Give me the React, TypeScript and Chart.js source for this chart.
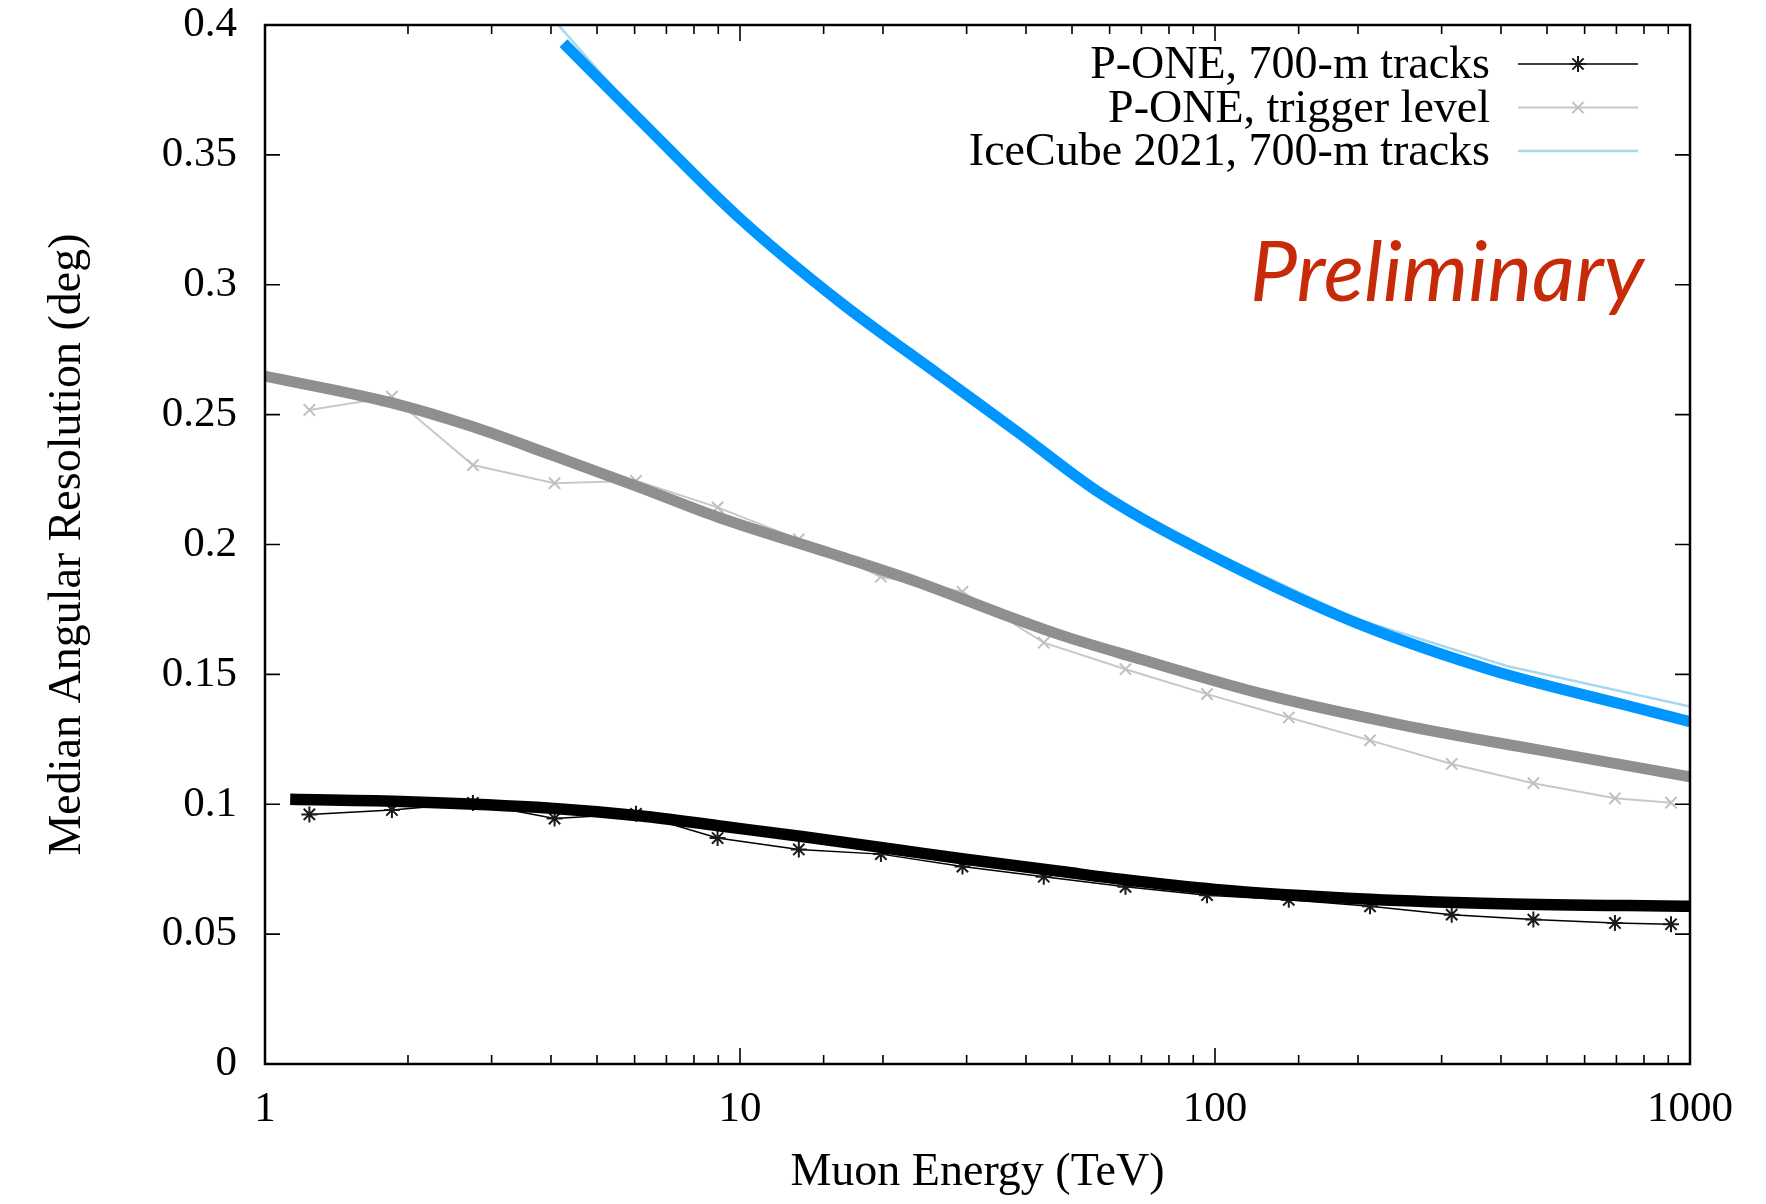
import React, { useEffect, useRef } from 'react';
import { Chart, registerables } from 'chart.js';

Chart.register(...registerables);

const SERIF = '"Liberation Serif", "Times New Roman", serif';

// Muon energy bins (TeV) of the P-ONE points
const energies = [1.24, 1.85, 2.74, 4.07, 6.04, 8.97, 13.3, 19.8, 29.4, 43.6, 64.8, 96.2, 143, 212, 315, 468, 695, 912];
// P-ONE, 700-m tracks (deg)
const poneTracks = [0.0961, 0.0978, 0.1005, 0.0945, 0.0963, 0.087, 0.0826, 0.0808, 0.076, 0.0721, 0.0682, 0.065, 0.0632, 0.0607, 0.0575, 0.0556, 0.0543, 0.0538];
// P-ONE, trigger level (deg)
const poneTrigger = [0.2518, 0.2569, 0.2306, 0.2236, 0.2245, 0.2143, 0.202, 0.1876, 0.1818, 0.1622, 0.152, 0.1424, 0.1334, 0.1246, 0.1155, 0.1081, 0.1023, 0.1006];

// IceCube 2021, 700-m tracks (thin line)
const icecubeE = [4.1, 6.2, 10, 16.2, 26.4, 38.8, 57, 104, 199, 416, 1000];
const icecubeRes = [0.401, 0.3635, 0.3258, 0.2938, 0.2652, 0.2432, 0.2205, 0.1952, 0.1712, 0.153, 0.1376];

// Smooth fit curves (thick lines)
const fitIceE = [4.25, 6.16, 10, 16.2, 26.4, 38.8, 57.4, 104, 199, 381, 730, 1000];
const fitIceRes = [0.393, 0.3634, 0.3255, 0.2935, 0.265, 0.2427, 0.2197, 0.1935, 0.1697, 0.1517, 0.1382, 0.1318];
const fitTrigE = [1, 1.84, 2.73, 4.06, 6.05, 9, 16.2, 23.5, 35.3, 47.2, 67.5, 129, 248, 473, 1000];
const fitTrigRes = [0.2648, 0.2546, 0.2454, 0.2341, 0.2225, 0.2105, 0.1955, 0.1857, 0.1735, 0.1652, 0.1566, 0.142, 0.1305, 0.1211, 0.1106];
const fitTrackE = [1.13, 2, 4, 6.2, 9, 13.5, 21.6, 29.6, 47, 64, 100, 212, 400, 1000];
const fitTrackRes = [0.1019, 0.101, 0.0985, 0.0955, 0.0917, 0.0876, 0.0824, 0.0789, 0.0742, 0.071, 0.0672, 0.0634, 0.0617, 0.0607];

const yTicks = [0, 0.05, 0.1, 0.15, 0.2, 0.25, 0.3, 0.35, 0.4];
const xLabels = [1, 10, 100, 1000];

const zip = (xs: number[], ys: number[]) => xs.map((x, i) => ({ x, y: ys[i] }));
const isMajor = (v: number) => xLabels.some((m) => Math.abs(m - v) < 1e-9 * m);

function drawMarker(ctx: CanvasRenderingContext2D, style: string, x: number, y: number, r: number) {
  ctx.beginPath();
  const d = r * Math.SQRT1_2;
  ctx.moveTo(x - d, y - d); ctx.lineTo(x + d, y + d);
  ctx.moveTo(x - d, y + d); ctx.lineTo(x + d, y - d);
  if (style === 'star') {
    ctx.moveTo(x, y - r); ctx.lineTo(x, y + r);
    ctx.moveTo(x - r, y); ctx.lineTo(x + r, y);
  }
  ctx.stroke();
}

const decorPlugin = {
  id: 'decor',
  afterDatasetsDraw(chart: any) {
    const { ctx, chartArea: a, scales } = chart;
    const xs = scales.x;
    const ys = scales.y;
    ctx.save();
    ctx.strokeStyle = '#000';
    ctx.lineCap = 'butt';
    // inward ticks on all four sides
    ctx.lineWidth = 1.6;
    ctx.beginPath();
    xs.ticks.forEach((t: any) => {
      const px = xs.getPixelForValue(t.value);
      if (px < a.left + 1 || px > a.right - 1) return;
      const len = isMajor(t.value) ? 16 : 9;
      ctx.moveTo(px, a.bottom); ctx.lineTo(px, a.bottom - len);
      ctx.moveTo(px, a.top); ctx.lineTo(px, a.top + len);
    });
    ys.ticks.forEach((t: any) => {
      const py = ys.getPixelForValue(t.value);
      if (py < a.top + 1 || py > a.bottom - 1) return;
      ctx.moveTo(a.left, py); ctx.lineTo(a.left + 15, py);
      ctx.moveTo(a.right, py); ctx.lineTo(a.right - 15, py);
    });
    ctx.stroke();
    // frame
    ctx.lineWidth = 2.5;
    ctx.strokeRect(a.left, a.top, a.right - a.left, a.bottom - a.top);

    // key
    const keyed = chart.data.datasets.filter((d: any) => d.inKey);
    ctx.font = '46px ' + SERIF;
    ctx.textAlign = 'right';
    ctx.textBaseline = 'middle';
    keyed.forEach((d: any, i: number) => {
      const y = a.top + 39 + i * 43.5;
      ctx.fillStyle = '#000';
      ctx.fillText(d.label, a.right - 200, y + 2);
      ctx.strokeStyle = d.borderColor;
      ctx.lineWidth = d.borderWidth;
      ctx.beginPath();
      ctx.moveTo(a.right - 172, y); ctx.lineTo(a.right - 52, y);
      ctx.stroke();
      if (d.pointRadius > 0) {
        ctx.strokeStyle = d.pointBorderColor;
        ctx.lineWidth = d.pointBorderWidth;
        drawMarker(ctx, d.pointStyle, a.right - 112, y, d.pointRadius);
      }
    });

    // "Preliminary" stamp
    ctx.font = 'italic 84px Lato, "Open Sans", sans-serif';
    ctx.fillStyle = '#c62a08';
    ctx.textAlign = 'right';
    ctx.textBaseline = 'alphabetic';
    ctx.fillText('Preliminary', a.right - 46, a.top + 276);
    ctx.restore();
  },
};

export default function App() {
  const ref = useRef<HTMLCanvasElement>(null);
  useEffect(() => {
    document.body.style.margin = '0';
    const canvas = ref.current;
    if (!canvas) return;
    const chart = new Chart(canvas, {
      type: 'line',
      data: {
        datasets: [
          {
            label: 'IceCube fit',
            data: zip(fitIceE, fitIceRes),
            borderColor: '#0096ff',
            borderWidth: 11,
            pointRadius: 0,
            cubicInterpolationMode: 'monotone',
            fill: false,
          },
          {
            label: 'Trigger fit',
            data: zip(fitTrigE, fitTrigRes),
            borderColor: '#8f8f8f',
            borderWidth: 11,
            pointRadius: 0,
            cubicInterpolationMode: 'monotone',
            fill: false,
          },
          {
            label: 'Tracks fit',
            data: zip(fitTrackE, fitTrackRes),
            borderColor: '#000000',
            borderWidth: 11.5,
            pointRadius: 0,
            cubicInterpolationMode: 'monotone',
            fill: false,
          },
          {
            label: 'P-ONE, 700-m tracks',
            inKey: true,
            data: zip(energies, poneTracks),
            borderColor: '#000000',
            borderWidth: 1.5,
            pointStyle: 'star',
            pointRadius: 8,
            pointBorderWidth: 2,
            pointBorderColor: '#1a1a1a',
            pointBackgroundColor: '#000000',
            tension: 0,
            fill: false,
          },
          {
            label: 'P-ONE, trigger level',
            inKey: true,
            data: zip(energies, poneTrigger),
            borderColor: '#c8c8c8',
            borderWidth: 2,
            pointStyle: 'crossRot',
            pointRadius: 8,
            pointBorderWidth: 2,
            pointBorderColor: '#c0c0c0',
            tension: 0,
            fill: false,
          },
          {
            label: 'IceCube 2021, 700-m tracks',
            inKey: true,
            data: zip(icecubeE, icecubeRes),
            borderColor: '#a8d8f0',
            borderWidth: 2.5,
            pointRadius: 0,
            pointBorderWidth: 0,
            tension: 0,
            fill: false,
          },
        ] as any,
      },
      options: {
        animation: false,
        responsive: false,
        parsing: false as any,
        layout: { padding: { left: 0, top: 25, right: 76, bottom: 0 } },
        plugins: { legend: { display: false }, tooltip: { enabled: false } },
        scales: {
          x: {
            type: 'logarithmic',
            min: 1,
            max: 1000,
            grid: { display: false, drawTicks: false },
            border: { display: false },
            ticks: {
              autoSkip: false,
              maxRotation: 0,
              minRotation: 0,
              padding: 20,
              color: '#000',
              font: { family: SERIF, size: 43 },
              callback: (v: any) => (isMajor(Number(v)) ? String(Math.round(Number(v))) : ''),
            },
            title: {
              display: true,
              text: 'Muon Energy (TeV)',
              color: '#000',
              font: { family: SERIF, size: 46 },
              padding: { top: 0, bottom: 3 },
            },
            afterFit: (s: any) => { s.height = 140; s.paddingTop = 0; s.paddingBottom = 0; },
          },
          y: {
            type: 'linear',
            min: 0,
            max: 0.4,
            grid: { display: false, drawTicks: false },
            border: { display: false },
            afterBuildTicks: (s: any) => { s.ticks = yTicks.map((value) => ({ value })); },
            ticks: {
              padding: 28,
              color: '#000',
              font: { family: SERIF, size: 43 },
              callback: (v: any) => String(Number(Number(v).toFixed(2))),
            },
            title: {
              display: true,
              text: 'Median Angular Resolution (deg)',
              color: '#000',
              font: { family: SERIF, size: 46 },
              padding: { top: 40, bottom: 0 },
            },
            afterFit: (s: any) => { s.width = 265; s.paddingTop = 0; s.paddingBottom = 0; },
          },
        } as any,
      },
      plugins: [decorPlugin],
    });
    return () => chart.destroy();
  }, []);
  return <canvas ref={ref} width={1766} height={1204} style={{ display: 'block', width: 1766, height: 1204 }} />;
}
